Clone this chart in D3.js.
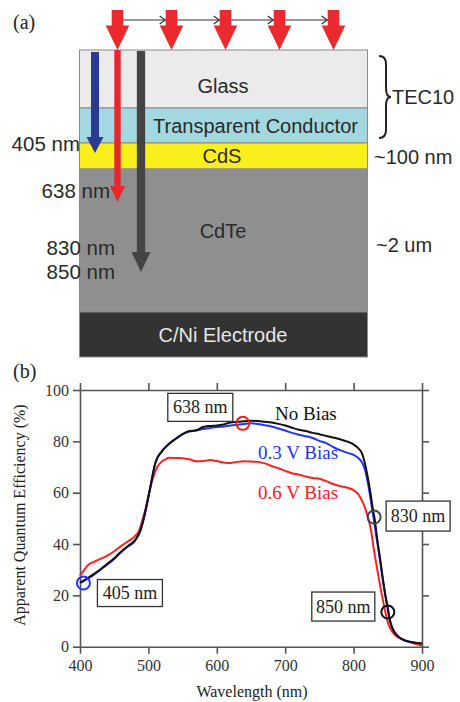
<!DOCTYPE html>
<html>
<head>
<meta charset="utf-8">
<script src="https://cdn.jsdelivr.net/npm/d3@7/dist/d3.min.js"></script>
<style>
  html, body { margin: 0; padding: 0; background: #fff; }
  svg { display: block; }
</style>
</head>
<body>
<svg id="fig" width="460" height="702"></svg>
<script>
// ---- Panel (a): device stack ----
const layerNames = ["Glass", "Transparent Conductor", "CdS", "CdTe", "C/Ni Electrode"];
const probeLabels = ["405 nm", "638 nm", "830 nm", "850 nm"];
const sideLabels = ["TEC10", "~100 nm", "~2 um"];

// ---- Panel (b): apparent quantum efficiency vs wavelength ----
const wlNoBias = [400,410,420,430,440,450,460,470,480,488,495,502,510,520,530,540,550,560,570,580,590,600,610,620,630,640,650,660,670,680,690,700,710,720,730,740,750,760,770,780,790,800,808,812,816,820,824,828,831,835,839,843,846,850,853,858,863,870,882,895,900];
const qeNoBias = [25,26.5,28.3,30.2,32.3,34.5,37,39.2,41.3,45,52,61,71.5,76.2,79,81,82.8,84,84.3,85.6,86,86.2,86.6,87.3,87.6,87.8,88,87.9,87.6,87.3,86.8,86.2,85.3,84.5,84,83.3,82.8,82.1,81.5,80.8,80,78.8,77,75.5,72,67,61,54,49.4,41,33.8,26,20.8,15,10.4,6.5,4.6,3,1.9,1.4,1.2];

const wl03V = [400,410,420,430,440,450,460,470,480,488,495,502,510,520,530,540,550,560,570,580,590,600,610,620,630,640,650,660,670,680,690,700,710,720,730,740,750,760,770,780,790,800,808,812,816,820,824,828,831,835,839,843,846,850,853,858,863,870,882,895,900];
const qe03V = [24.8,26.3,28,30,32,34.2,36.8,39,41.1,45,52,61,71.5,76.2,79,81,82.8,83.8,84.2,84.8,85.2,85.6,85.8,86.2,86.5,86.8,87,86.8,86.3,85.8,85,84.2,83.3,82.6,82,81.3,80.2,79.3,77.8,76.6,75.6,74.7,73.2,72,69.5,65,59,52,47,40,33,25.5,20.5,14.5,10.2,6.4,4.5,3,1.9,1.4,1.2];

const wl06V = [400,405,412,420,430,440,450,460,470,480,486,492,497,502,507,513,519,525,530,540,550,560,570,580,590,600,610,620,630,640,650,660,670,680,690,700,710,720,730,740,750,760,770,780,790,800,806,810,814,818,822,826,829,834,839,844,848,852,855,860,868,880,897,900];
const qe06V = [27.5,29.5,31.8,33,34.2,35.5,37.2,39.2,41,43,45,50,55,61,66,70,72,73,73.6,73.5,73.4,73,72.2,72.3,72.7,72.3,71.8,71.6,72,72.2,72.1,72,71.4,70.4,69.5,68.5,67.6,67,66.3,65.7,65.4,64.5,63.4,62.6,62,61,59.6,58,55.9,53,49.4,44.5,39,31,23.4,16.5,11.7,8,6.5,4.6,3.3,2,0.7,0.6];

const seriesNames = ["0.6 V Bias", "0.3 V Bias", "No Bias"];
const markWavelengths = [405, 638, 830, 850];
const markValues = [24.8, 87, 50.5, 13.5];
const xTicks = [400, 500, 600, 700, 800, 900];
const yTicks = [0, 20, 40, 60, 80, 100];

const svg = d3.select("#fig");
const sans = "'Liberation Sans', Arial, sans-serif";
const serif = "'Liberation Serif', 'Times New Roman', serif";

// =================== Panel (a) ===================
const gA = svg.append("g");
gA.append("text").attr("x", 13).attr("y", 29).attr("font-family", serif)
  .attr("font-size", 20).attr("fill", "#222").text("(a)");

const stackX = d3.scaleLinear().domain([0, 1]).range([79.5, 367.5]);
const stackY = d3.scaleOrdinal().domain(layerNames).range([50, 108, 143, 169, 312]);
const stackBottom = 357;
const layerFill = ["#ebebeb", "#a3d8e0", "#fbee1d", "#8f8f8f", "#333333"];
const layerText = ["#2a2a2a", "#2a2a2a", "#2a2a2a", "#2a2a2a", "#e6e6e6"];
const layerTextY = [92.5, 133, 163.3, 238.3, 341.7];
const layerTextX = [223, 255.5, 222, 223, 223];

layerNames.forEach((name, i) => {
  const y0 = stackY(name);
  const y1 = i < layerNames.length - 1 ? stackY(layerNames[i + 1]) : stackBottom;
  gA.append("rect").attr("x", stackX(0)).attr("y", y0)
    .attr("width", stackX(1) - stackX(0)).attr("height", y1 - y0)
    .attr("fill", layerFill[i]).attr("stroke", "#8a8a8a").attr("stroke-width", 1);
});

// block arrow pointing down
function downArrow(g, cx, yTop, yHeadTop, yTip, shaftW, headHalf, color) {
  const p = d3.path();
  p.moveTo(cx - shaftW / 2, yTop);
  p.lineTo(cx + shaftW / 2, yTop);
  p.lineTo(cx + shaftW / 2, yHeadTop);
  p.lineTo(cx + headHalf, yHeadTop);
  p.lineTo(cx, yTip);
  p.lineTo(cx - headHalf, yHeadTop);
  p.lineTo(cx - shaftW / 2, yHeadTop);
  p.closePath();
  g.append("path").attr("d", p.toString()).attr("fill", color);
}
// penetration depth of each probe wavelength
downArrow(gA, 95, 52, 137, 153, 8, 8.5, "#2b3a92");
downArrow(gA, 141, 51, 252, 272, 8.3, 9.5, "#444444");
downArrow(gA, 117.5, 50, 186, 202, 6.4, 7.5, "#e8262b");

// incoming scanned illumination
const beamX = d3.scaleLinear().domain([0, 4]).range([117.5, 333.5]);
d3.range(5).forEach(i => {
  downArrow(gA, beamX(i), 10, 25.5, 50, 11.6, 11.8, "#ec2a2d");
});
d3.range(4).forEach(i => {
  const xa = beamX(i) + 5.8, xb = beamX(i + 1) - 5.8;
  gA.append("line").attr("x1", xa).attr("x2", xb).attr("y1", 20).attr("y2", 20)
    .attr("stroke", "#333").attr("stroke-width", 1.2);
  gA.append("path").attr("d", `M${xb - 6},${16} L${xb - 0.5},${20} L${xb - 6},${24}`)
    .attr("fill", "none").attr("stroke", "#333").attr("stroke-width", 1.2);
});

// layer labels
layerNames.forEach((name, i) => {
  gA.append("text").attr("x", layerTextX[i]).attr("y", layerTextY[i])
    .attr("text-anchor", "middle").attr("font-family", sans).attr("font-size", 20)
    .attr("fill", layerText[i]).text(name);
});

// probe wavelength labels
const probeX = [80, 110, 115, 115];
const probeY = [150.7, 198.3, 255, 279.3];
probeLabels.forEach((t, i) => {
  gA.append("text").attr("x", probeX[i]).attr("y", probeY[i]).attr("text-anchor", "end")
    .attr("font-family", sans).attr("font-size", 20.5).attr("fill", "#2a2a2a").text(t);
});

// brace and thickness labels
gA.append("path")
  .attr("d", "M379,56 Q386,56 386,64 L386,88 Q386,97 391,97 Q386,97 386,106 L386,130 Q386,138 379,138")
  .attr("fill", "none").attr("stroke", "#222").attr("stroke-width", 2);
const sideX = [392, 374, 376];
const sideY = [104, 164, 252.3];
sideLabels.forEach((t, i) => {
  gA.append("text").attr("x", sideX[i]).attr("y", sideY[i]).attr("font-family", sans)
    .attr("font-size", 20).attr("fill", "#2a2a2a").text(t);
});

// =================== Panel (b) ===================
const gB = svg.append("g");
gB.append("text").attr("x", 13).attr("y", 378).attr("font-family", serif)
  .attr("font-size", 20).attr("fill", "#222").text("(b)");

const x = d3.scaleLinear().domain([400, 900]).range([80, 422]);
const y = d3.scaleLinear().domain([0, 100]).range([646.7, 390]);

function styleAxis(g) {
  g.selectAll("path.domain").attr("stroke", "#555").attr("stroke-width", 1.6);
  g.selectAll(".tick line").attr("stroke", "#555").attr("stroke-width", 1.6);
  g.selectAll(".tick text").attr("font-family", serif).attr("font-size", 16).attr("fill", "#333");
}

gB.append("g").attr("transform", `translate(0,${y(0)})`)
  .call(d3.axisBottom(x).tickValues(xTicks).tickSize(7).tickSizeOuter(0).tickPadding(6))
  .call(styleAxis);
gB.append("g").attr("transform", `translate(0,${y(100)})`)
  .call(d3.axisTop(x).tickValues(xTicks).tickSize(7).tickSizeOuter(0).tickFormat(""))
  .call(styleAxis);
gB.append("g").attr("transform", `translate(${x(400)},0)`)
  .call(d3.axisLeft(y).tickValues(yTicks).tickSize(7).tickSizeOuter(0).tickPadding(4))
  .call(styleAxis);
gB.append("g").attr("transform", `translate(${x(900)},0)`)
  .call(d3.axisRight(y).tickValues(yTicks).tickSize(7).tickSizeOuter(0).tickFormat(""))
  .call(styleAxis);

gB.append("text").attr("x", 252).attr("y", 697).attr("text-anchor", "middle")
  .attr("font-family", serif).attr("font-size", 16).attr("fill", "#222").text("Wavelength (nm)");
gB.append("text").attr("transform", "translate(25,515) rotate(-90)").attr("text-anchor", "middle")
  .attr("font-family", serif).attr("font-size", 16).attr("fill", "#222")
  .text("Apparent Quantum Efficiency (%)");

const line = d3.line().x(d => x(d[0])).y(d => y(d[1])).curve(d3.curveMonotoneX);
const series = [
  { name: seriesNames[0], wl: wl06V, qe: qe06V, color: "#ff2020" },
  { name: seriesNames[1], wl: wl03V, qe: qe03V, color: "#1f35ff" },
  { name: seriesNames[2], wl: wlNoBias, qe: qeNoBias, color: "#111111" }
];
series.forEach(s => {
  gB.append("path").datum(s.wl.map((w, i) => [w, s.qe[i]]))
    .attr("d", line).attr("fill", "none").attr("stroke", s.color)
    .attr("stroke-width", 2).attr("stroke-linejoin", "round");
});

// series labels
const seriesLabelPos = { "No Bias": [275, 420], "0.3 V Bias": [258, 459], "0.6 V Bias": [258, 499.3] };
series.forEach(s => {
  const p = seriesLabelPos[s.name];
  gB.append("text").attr("x", p[0]).attr("y", p[1]).attr("font-family", serif)
    .attr("font-size", 19).attr("fill", s.color).text(s.name);
});

// probe markers with boxed wavelength tags
const markColor = ["#2233ff", "#ee2222", "#444444", "#111111"];
// tag box offsets from the marker: [dx to box left, dy to box top, width, height]
const tagBox = [[14, -3.5, 65, 27], [-75, -30, 65, 28], [12, -16, 64, 30], [-76, -20, 63, 29]];
markWavelengths.forEach((w, i) => {
  const cx = x(w), cy = y(markValues[i]);
  gB.append("circle").attr("cx", cx).attr("cy", cy).attr("r", 6.5)
    .attr("fill", "none").attr("stroke", markColor[i]).attr("stroke-width", 2);
  const b = tagBox[i];
  gB.append("rect").attr("x", cx + b[0]).attr("y", cy + b[1]).attr("width", b[2]).attr("height", b[3])
    .attr("fill", "#fff").attr("stroke", "#333").attr("stroke-width", 1.3);
  gB.append("text").attr("x", cx + b[0] + b[2] / 2).attr("y", cy + b[1] + b[3] / 2 + 6)
    .attr("text-anchor", "middle").attr("font-family", serif).attr("font-size", 18)
    .attr("fill", "#222").text(`${w} nm`);
});
</script>
</body>
</html>
